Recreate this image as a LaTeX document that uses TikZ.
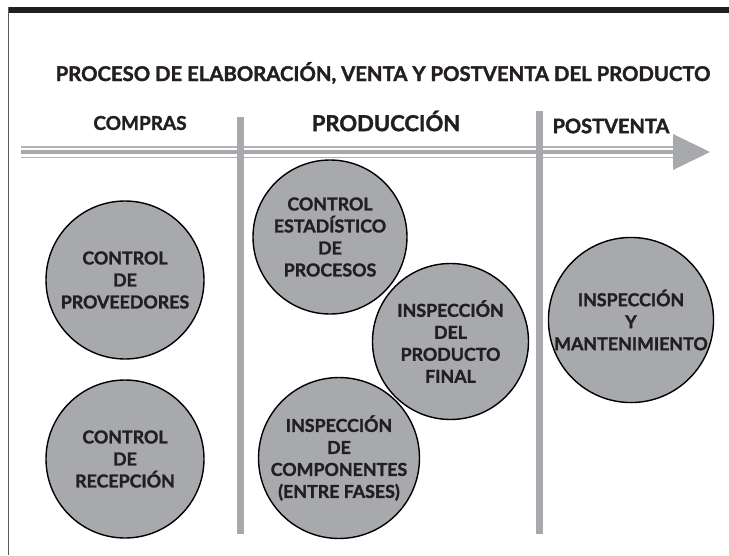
\documentclass[tikz,border=0pt]{standalone}
\usepackage{fontspec}
\setmainfont{Lato}[BoldFont={Lato Bold}, BoldFeatures={FakeBold=1.6}]
\definecolor{cgray}{HTML}{A7A9AC}
\definecolor{lgray}{HTML}{B1B2B5}
\definecolor{topdark}{HTML}{231F20}
\definecolor{bordergray}{HTML}{5A5A5C}
\tikzset{
  circ/.style={circle, draw=black, line width=1.4pt, fill=cgray, minimum size=#1, inner sep=0pt, align=center,
    font=\fontsize{17.8}{22}\selectfont\bfseries, text=topdark},
  head/.style={font=\bfseries, text=topdark, inner sep=0pt},
  vbar/.style={draw=cgray, line width=7.5pt},
  thinline/.style={draw=lgray, line width=1.6pt},
  thickline/.style={draw=cgray, line width=4pt}
}
\begin{document}
\begin{tikzpicture}[x=1pt,y=-1pt]
\useasboundingbox (0,0) rectangle (729,555);
% frame
\fill[topdark] (7.5,7) rectangle (729,12.5);
\draw[bordergray, line width=1.6pt] (8.5,7) -- (8.5,555);
% title
\node[head, font=\fontsize{20.3}{24}\selectfont\bfseries] (title) at (383,73) {PROCESO DE ELABORACIÓN, VENTA Y POSTVENTA DEL PRODUCTO};
% headers
\node[head, font=\fontsize{19}{22}\selectfont\bfseries] (compras) at (140,123) {COMPRAS};
\node[head, font=\fontsize{22}{26}\selectfont\bfseries] (produccion) at (386,121) {PRODUCCIÓN};
\node[head, font=\fontsize{20}{24}\selectfont\bfseries] (postventa) at (611,126) {POSTVENTA};
% arrow
\coordinate (as) at (21,152);
\coordinate (ae) at (675,152);
\draw[thinline] ([yshift=-5.3pt]as) -- ([yshift=-5.3pt]ae);
\draw[thickline] (as) -- (ae);
\draw[thinline] ([yshift=5.3pt]as) -- ([yshift=5.3pt]ae);
\fill[cgray] (673,134) -- (710,152) -- (673,170) -- cycle;
% bars
\draw[vbar] (240.5,117) -- (240.5,534);
\draw[vbar] (539.5,111) -- (539.5,534);
% circles
\node[circ=158pt] (prov) at (125,280) {CONTROL\\DE\\PROVEEDORES};
\node[circ=158pt] (recep) at (125,459) {CONTROL\\DE\\RECEPCIÓN};
\node[circ=154pt] (cep) at (330,237) {CONTROL\\ESTADÍSTICO\\DE\\PROCESOS};
\node[circ=156pt] (ipf) at (450.5,341.5) {INSPECCIÓN\\DEL\\PRODUCTO\\FINAL};
\node[circ=158pt] (ic) at (339,458) {INSPECCIÓN\\DE\\COMPONENTES\\(ENTRE FASES)};
\node[circ=160pt] (im) at (631,320) {INSPECCIÓN\\Y\\MANTENIMIENTO};
\end{tikzpicture}
\end{document}
